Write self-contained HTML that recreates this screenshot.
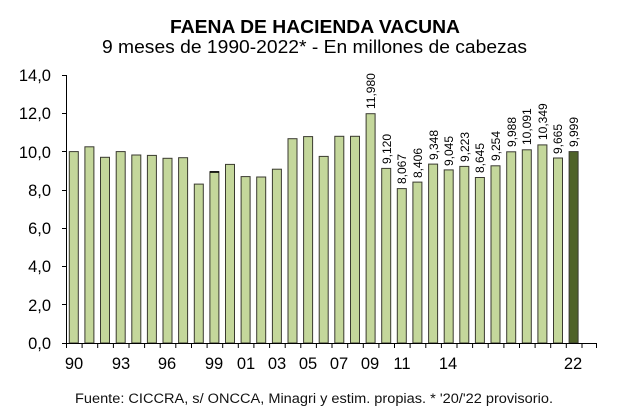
<!DOCTYPE html>
<html><head><meta charset="utf-8"><style>
html,body{margin:0;padding:0;background:#fff;}
svg{display:block;font-family:"Liberation Sans",Arial,sans-serif;}
</style></head><body>
<svg width="617" height="417" viewBox="0 0 617 417" xmlns="http://www.w3.org/2000/svg">
<rect width="617" height="417" fill="#fff"/>
<text x="170" y="33" font-size="18" font-weight="bold" textLength="290" lengthAdjust="spacingAndGlyphs">FAENA DE HACIENDA VACUNA</text>
<text x="102" y="53" font-size="18.5" textLength="425" lengthAdjust="spacingAndGlyphs">9 meses de 1990-2022* - En millones de cabezas</text>
<g font-size="16.5" text-anchor="end">
<text x="51" y="81">14,0</text><text x="51" y="119">12,0</text><text x="51" y="158">10,0</text>
<text x="51" y="196">8,0</text><text x="51" y="234">6,0</text><text x="51" y="272">4,0</text>
<text x="51" y="311">2,0</text><text x="51" y="349">0,0</text>
</g>
<g stroke="#000" stroke-width="1">
<line x1="66.5" y1="75" x2="66.5" y2="343"/>
<line x1="62" y1="75.5" x2="66" y2="75.5"/><line x1="62" y1="113.5" x2="66" y2="113.5"/>
<line x1="62" y1="151.5" x2="66" y2="151.5"/><line x1="62" y1="190.5" x2="66" y2="190.5"/>
<line x1="62" y1="228.5" x2="66" y2="228.5"/><line x1="62" y1="266.5" x2="66" y2="266.5"/>
<line x1="62" y1="304.5" x2="66" y2="304.5"/><line x1="62" y1="343.5" x2="66" y2="343.5"/>
</g>
<g fill="#c4d79b" stroke="#3a3a30" stroke-width="1">
<rect x="69.3" y="151.6" width="9" height="191.4"/>
<rect x="84.9" y="146.8" width="9" height="196.2"/>
<rect x="100.5" y="157.3" width="9" height="185.7"/>
<rect x="116.2" y="151.6" width="9" height="191.4"/>
<rect x="131.8" y="155.0" width="9" height="188"/>
<rect x="147.4" y="155.4" width="9" height="187.6"/>
<rect x="163.0" y="158.3" width="9" height="184.7"/>
<rect x="178.6" y="157.7" width="9" height="185.3"/>
<rect x="194.3" y="184.1" width="9" height="158.9"/>
<rect x="209.9" y="171.7" width="9" height="171.3"/>
<rect x="225.5" y="164.4" width="9" height="178.6"/>
<rect x="241.1" y="176.6" width="9" height="166.4"/>
<rect x="256.7" y="177.0" width="9" height="166"/>
<rect x="272.4" y="169.2" width="9" height="173.8"/>
<rect x="288.0" y="138.7" width="9" height="204.3"/>
<rect x="303.6" y="136.6" width="9" height="206.4"/>
<rect x="319.2" y="156.4" width="9" height="186.6"/>
<rect x="334.8" y="136.3" width="9" height="206.7"/>
<rect x="350.5" y="136.3" width="9" height="206.7"/>
<rect x="366.1" y="113.7" width="9" height="229.3"/>
<rect x="381.7" y="168.4" width="9" height="174.6"/>
<rect x="397.3" y="188.6" width="9" height="154.4"/>
<rect x="412.9" y="182.1" width="9" height="160.9"/>
<rect x="428.6" y="164.1" width="9" height="178.9"/>
<rect x="444.2" y="169.9" width="9" height="173.1"/>
<rect x="459.8" y="166.4" width="9" height="176.6"/>
<rect x="475.4" y="177.5" width="9" height="165.5"/>
<rect x="491.0" y="165.8" width="9" height="177.2"/>
<rect x="506.7" y="151.8" width="9" height="191.2"/>
<rect x="522.3" y="149.8" width="9" height="193.2"/>
<rect x="537.9" y="144.9" width="9" height="198.1"/>
<rect x="553.5" y="158.0" width="9" height="185"/>
<rect x="569.1" y="151.6" width="9" height="191.4" fill="#4f6228"/>
</g>
<rect x="210" y="171.2" width="9" height="1.6" fill="#000"/>
<g stroke="#000" stroke-width="1">
<line x1="66" y1="343.5" x2="597" y2="343.5"/>
<line x1="66.5" y1="343" x2="66.5" y2="348"/><line x1="82.1" y1="343" x2="82.1" y2="348"/><line x1="97.7" y1="343" x2="97.7" y2="348"/><line x1="113.4" y1="343" x2="113.4" y2="348"/><line x1="129" y1="343" x2="129" y2="348"/><line x1="144.6" y1="343" x2="144.6" y2="348"/><line x1="160.2" y1="343" x2="160.2" y2="348"/><line x1="175.8" y1="343" x2="175.8" y2="348"/><line x1="191.5" y1="343" x2="191.5" y2="348"/><line x1="207.1" y1="343" x2="207.1" y2="348"/><line x1="222.7" y1="343" x2="222.7" y2="348"/><line x1="238.3" y1="343" x2="238.3" y2="348"/><line x1="253.9" y1="343" x2="253.9" y2="348"/><line x1="269.6" y1="343" x2="269.6" y2="348"/><line x1="285.2" y1="343" x2="285.2" y2="348"/><line x1="300.8" y1="343" x2="300.8" y2="348"/><line x1="316.4" y1="343" x2="316.4" y2="348"/><line x1="332" y1="343" x2="332" y2="348"/><line x1="347.7" y1="343" x2="347.7" y2="348"/><line x1="363.3" y1="343" x2="363.3" y2="348"/><line x1="378.9" y1="343" x2="378.9" y2="348"/><line x1="394.5" y1="343" x2="394.5" y2="348"/><line x1="410.1" y1="343" x2="410.1" y2="348"/><line x1="425.8" y1="343" x2="425.8" y2="348"/><line x1="441.4" y1="343" x2="441.4" y2="348"/><line x1="457" y1="343" x2="457" y2="348"/><line x1="472.6" y1="343" x2="472.6" y2="348"/><line x1="488.2" y1="343" x2="488.2" y2="348"/><line x1="503.9" y1="343" x2="503.9" y2="348"/><line x1="519.5" y1="343" x2="519.5" y2="348"/><line x1="535.1" y1="343" x2="535.1" y2="348"/><line x1="550.7" y1="343" x2="550.7" y2="348"/><line x1="566.3" y1="343" x2="566.3" y2="348"/><line x1="582" y1="343" x2="582" y2="348"/><line x1="596.5" y1="343" x2="596.5" y2="348"/>
</g>
<g font-size="12">
<text transform="translate(375,109) rotate(-90)">11,980</text>
<text transform="translate(391,164) rotate(-90)">9,120</text>
<text transform="translate(406,184) rotate(-90)">8,067</text>
<text transform="translate(422,178) rotate(-90)">8,406</text>
<text transform="translate(438,160) rotate(-90)">9,348</text>
<text transform="translate(453,166) rotate(-90)">9,045</text>
<text transform="translate(469,162) rotate(-90)">9,223</text>
<text transform="translate(484,173) rotate(-90)">8,645</text>
<text transform="translate(500,161) rotate(-90)">9,254</text>
<text transform="translate(516,147) rotate(-90)">9,988</text>
<text transform="translate(531,145) rotate(-90)">10,091</text>
<text transform="translate(547,140) rotate(-90)">10,349</text>
<text transform="translate(562,154) rotate(-90)">9,665</text>
<text transform="translate(578,147) rotate(-90)">9,999</text>
</g>
<g font-size="16.5" text-anchor="middle">
<text x="74" y="369">90</text><text x="121" y="369">93</text><text x="167" y="369">96</text>
<text x="214" y="369">99</text><text x="246" y="369">01</text><text x="277" y="369">03</text>
<text x="308" y="369">05</text><text x="339" y="369">07</text><text x="370" y="369">09</text>
<text x="402" y="369">11</text><text x="448" y="369">14</text><text x="573" y="369">22</text>
</g>
<text x="75" y="403" font-size="13.5" fill="#111" textLength="478" lengthAdjust="spacingAndGlyphs">Fuente: CICCRA, s/ ONCCA, Minagri y estim. propias. * '20/'22 provisorio.</text>
</svg>
</body></html>
